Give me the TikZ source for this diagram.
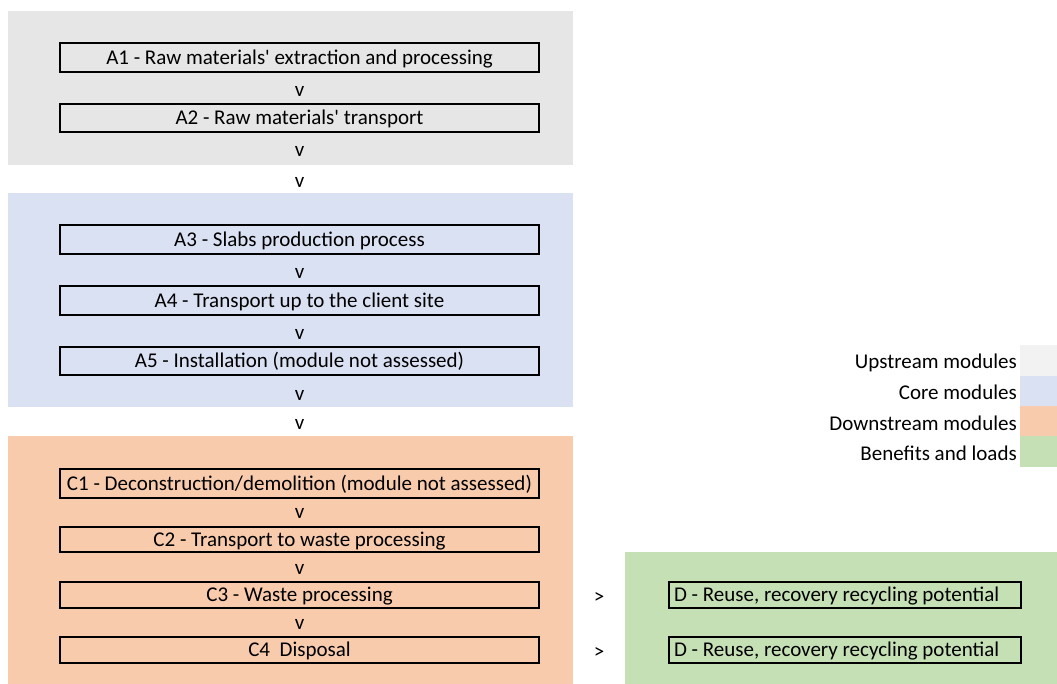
\documentclass[tikz,border=0pt]{standalone}
\usepackage{fontspec}
\setmainfont{Carlito}[Ligatures=TeXOff]
\definecolor{bandgray}{HTML}{E7E6E6}
\definecolor{leggray}{HTML}{F2F2F2}
\definecolor{bandblue}{HTML}{DAE1F3}
\definecolor{bandorange}{HTML}{F8CBAD}
\definecolor{bandgreen}{HTML}{C5E0B4}
\begin{document}
\begin{tikzpicture}[x=1pt,y=-1pt,
  font=\fontsize{21}{25}\selectfont,
  stepbox/.style={draw, line width=2pt, minimum width=479pt, text height=13.5pt, text depth=0pt, inner sep=0pt},
  dbox/.style={draw, line width=2pt, text width=342pt, align=flush left, inner xsep=5pt, inner ysep=0pt, minimum height=26pt, text height=13.5pt, text depth=0pt},
  flowtxt/.style={anchor=base, inner sep=0pt},
  legtxt/.style={anchor=base east, inner sep=0pt}]
\useasboundingbox (0,0) rectangle (1057,684);
% bands
\fill[bandgray] (8,11) rectangle (573,165);
\fill[bandblue] (8,193) rectangle (573,407);
\fill[bandorange] (8,436) rectangle (573,684);
\fill[bandgreen] (625,552) rectangle (1057,684);
% legend swatches
\fill[leggray] (1020,345) rectangle (1057,376);
\fill[bandblue] (1020,376) rectangle (1057,406);
\fill[bandorange] (1020,406) rectangle (1057,436);
\fill[bandgreen] (1020,436) rectangle (1057,467);
% legend texts
\node[legtxt] (lup) at (1017,369) {Upstream modules};
\node[legtxt] (lcore) at (1017,399.5) {Core modules};
\node[legtxt] (ldown) at (1017,430) {Downstream modules};
\node[legtxt] (lben) at (1017,460.5) {Benefits and loads};
% module boxes
\node[stepbox, minimum height=29pt] (a1) at (299.5,57.5) {A1 - Raw materials' extraction and processing};
\node[stepbox, minimum height=28pt] (a2) at (299.5,118) {A2 - Raw materials' transport};
\node[stepbox, minimum height=29pt] (a3) at (299.5,239.5) {A3 - Slabs production process};
\node[stepbox, minimum height=29pt] (a4) at (299.5,300.5) {A4 - Transport up to the client site};
\node[stepbox, minimum height=28pt] (a5) at (299.5,361) {A5 - Installation (module not assessed)};
\node[stepbox, minimum height=29pt] (c1) at (299.5,483.5) {C1 - Deconstruction/demolition (module not assessed)};
\node[stepbox, minimum height=25pt] (c2) at (299.5,539.5) {C2 - Transport to waste processing};
\node[stepbox, minimum height=26pt] (c3) at (299.5,595) {C3 - Waste processing};
\node[stepbox, minimum height=26pt] (c4) at (299.5,650) {C4~~Disposal};
\node[dbox] (d1) at (845,595) {D - Reuse, recovery recycling potential};
\node[dbox] (d2) at (845,650) {D - Reuse, recovery recycling potential};
% flow marks
\node[flowtxt] (v1) at (299.5,97) {v};
\node[flowtxt] (v2) at (299.5,157) {v};
\node[flowtxt] (v3) at (299.5,188) {v};
\node[flowtxt] (v4) at (299.5,279) {v};
\node[flowtxt] (v5) at (299.5,340) {v};
\node[flowtxt] (v6) at (299.5,400) {v};
\node[flowtxt] (v7) at (299.5,429) {v};
\node[flowtxt] (v8) at (299.5,518) {v};
\node[flowtxt] (v9) at (299.5,574) {v};
\node[flowtxt] (v10) at (299.5,629) {v};
\node[flowtxt] (g1) at (599,603) {>};
\node[flowtxt] (g2) at (599,658) {>};
\end{tikzpicture}
\end{document}
